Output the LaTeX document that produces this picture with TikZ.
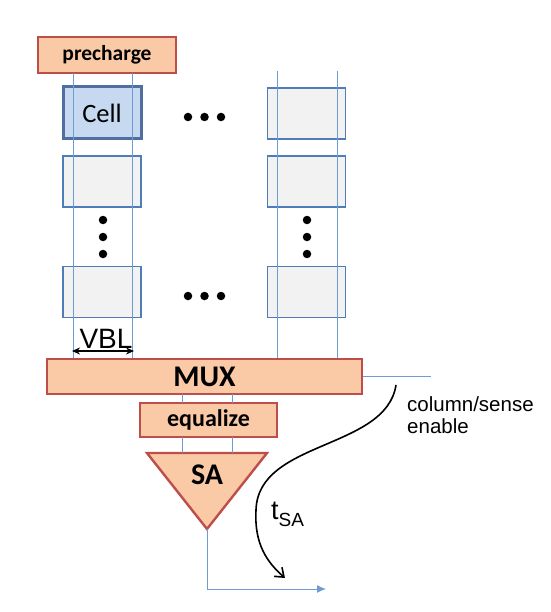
\documentclass[tikz,border=0pt]{standalone}
\usepackage{fontspec}
\setmainfont{Carlito}
\newfontfamily\arialfont{Liberation Sans}
\usetikzlibrary{arrows.meta}
\definecolor{orfill}{RGB}{250,201,166}
\definecolor{ordraw}{RGB}{190,78,74}
\definecolor{cellfill}{RGB}{198,217,240}
\definecolor{celldraw}{RGB}{80,110,160}
\definecolor{grayfill}{RGB}{242,242,242}
\definecolor{graydraw}{RGB}{80,125,185}
\definecolor{bline}{RGB}{110,155,210}
\tikzset{
  orbox/.style={draw=ordraw, fill=orfill, line width=2.4pt, inner sep=0pt, font=\bfseries},
  cellbox/.style={draw=celldraw, fill=cellfill, line width=3pt, inner sep=0pt, minimum width=78pt, minimum height=52pt},
  graybox/.style={draw=graydraw, fill=grayfill, line width=1.2pt, inner sep=0pt, minimum width=78pt, minimum height=51pt},
  bitline/.style={draw=bline, line width=1pt},
  dotmark/.style={fill=black, circle, inner sep=0pt, minimum size=8.5pt},
}
\begin{document}
\begin{tikzpicture}[x=1pt,y=-1pt]
\useasboundingbox (0,0) rectangle (550,612);
% cells
\node[cellbox, font=\fontsize{26.5}{28}\selectfont] (c11) at (102,113) {Cell};
\node[graybox] (c21) at (102,181.5) {};
\node[graybox] (c31) at (102,292) {};
\node[graybox] (c1n) at (306.5,113.5) {};
\node[graybox] (c2n) at (306.5,181.5) {};
\node[graybox] (c3n) at (306.5,292) {};
% top boxes
\node[orbox, minimum width=138pt, minimum height=36pt, font=\bfseries\fontsize{21.5}{23}\selectfont] (pre) at (107,55) {precharge};
\node[orbox, minimum width=315pt, minimum height=35pt, font=\bfseries\fontsize{30}{32}\selectfont] (mux) at (204.5,376.5) {MUX};
\node[orbox, minimum width=137pt, minimum height=34pt, font=\bfseries\fontsize{24}{26}\selectfont] (eq) at (208.5,420) {equalize};
% SA triangle
\coordinate (satl) at (147,453);
\coordinate (satr) at (267,453);
\coordinate (saout) at (207,529);
\draw[draw=ordraw, fill=orfill, line width=2.4pt, line join=miter] (satl) -- (satr) -- (saout) -- cycle;
\node[font=\bfseries\fontsize{30}{32}\selectfont] (sa) at (207,475) {SA};
% bitlines
\coordinate (l1t) at (73,73); \coordinate (l1b) at (73,358);
\coordinate (l2t) at (132,73); \coordinate (l2b) at (132,358);
\coordinate (r1t) at (277,71); \coordinate (r1b) at (277,358);
\coordinate (r2t) at (337,71); \coordinate (r2b) at (337,358);
\draw[bitline] (l1t) -- (l1b);
\draw[bitline] (l2t) -- (l2b);
\draw[bitline] (r1t) -- (r1b);
\draw[bitline] (r2t) -- (r2b);
\coordinate (m1) at (182,394); \coordinate (m2) at (232,394);
\coordinate (e1) at (182,403); \coordinate (e2) at (232,403);
\coordinate (e3) at (182,437); \coordinate (e4) at (232,437);
\coordinate (s1) at (182,453); \coordinate (s2) at (232,453);
\draw[bitline] (m1) -- (e1);
\draw[bitline] (m2) -- (e2);
\draw[bitline] (e3) -- (s1);
\draw[bitline] (e4) -- (s2);
% output
\coordinate (outc) at (207,589);
\coordinate (oute) at (326,589);
\draw[bitline, -{Latex[length=9pt,width=8pt]}] (saout) -- (outc) -- (oute);
% column/sense enable line
\coordinate (cse) at (431,376.5);
\draw[bitline] (mux.east) -- (cse);
\node[font=\arialfont\fontsize{20.5}{22}\selectfont, align=left, anchor=north west, inner sep=0pt] (cstext) at (407,396) {column/sense\\enable};
% dots
\foreach \x/\n in {188/a,204.5/b,221/c}{
  \node[dotmark] (dt\n) at (\x,117) {};
  \node[dotmark] (db\n) at (\x,296) {};
}
\foreach \y/\n in {220/a,237/b,254/c}{
  \node[dotmark] (dl\n) at (103,\y) {};
  \node[dotmark] (dr\n) at (307,\y) {};
}
% VBL
\node[font=\arialfont\fontsize{28}{30}\selectfont, inner sep=0pt, anchor=base] (vbl) at (106,348) {VBL};
\coordinate (va) at (72,351);
\coordinate (vb) at (134,351);
\draw[line width=1.6pt, {Stealth[length=8pt,width=7pt]}-{Stealth[length=8pt,width=7pt]}] (va) -- (vb);
% timing curve
\coordinate (ts) at (396,385);
\coordinate (tm) at (256,510);
\coordinate (te) at (285,578);
\draw[line width=1.6pt, -{Straight Barb[length=8pt,width=12pt]}] (ts) .. controls (386,450) and (258,440) .. (tm) .. controls (254,545) and (268,563) .. (te);
\node[font=\arialfont\fontsize{27}{29}\selectfont, anchor=base west, inner sep=0pt] (tsa) at (271,519) {t\raisebox{-7pt}{\fontsize{19}{21}\selectfont SA}};
\end{tikzpicture}
\end{document}
